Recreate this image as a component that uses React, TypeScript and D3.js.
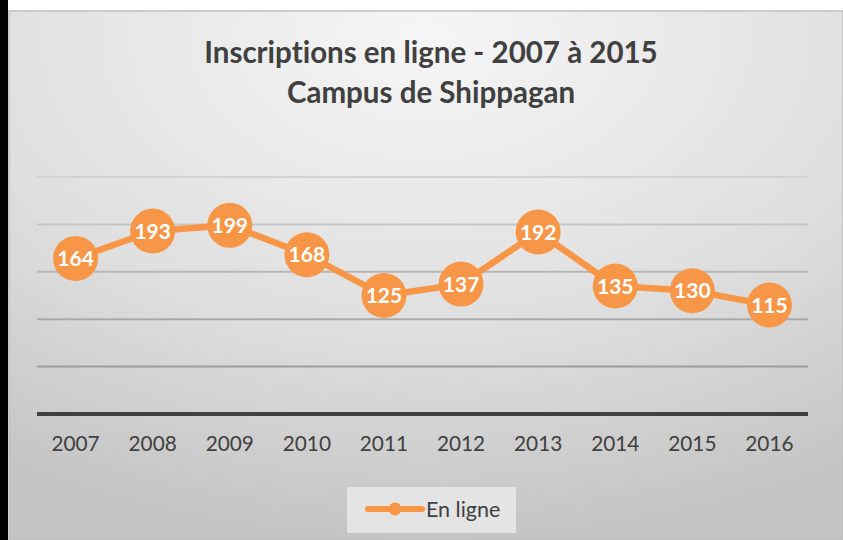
import React from "react";
import * as d3 from "d3";

const years = ["2007", "2008", "2009", "2010", "2011", "2012", "2013", "2014", "2015", "2016"];
const enLigne = [164, 193, 199, 168, 125, 137, 192, 135, 130, 115];
const gridTicks = [50, 100, 150, 200, 250];
const titleLines = ["Inscriptions en ligne - 2007 à 2015", "Campus de Shippagan"];
const seriesName = "En ligne";

const W = 843;
const H = 540;
const ORANGE = "#F79646";
const TEXT = "#404040";
const FONT = "Lato, 'Open Sans', sans-serif";

export default function App() {
  const x = d3.scaleBand<string>().domain(years).range([37, 808]);
  const y = d3.scaleLinear().domain([0, 250]).range([414, 177]);
  const cx = (d: string) => (x(d) as number) + x.bandwidth() / 2;
  const line = d3
    .line<number>()
    .x((_, i) => cx(years[i]))
    .y((v) => y(v));
  const gridColor = d3.scaleLinear<string>().domain([250, 50]).range(["#d2d2d2", "#9c9c9c"]);

  return (
    <svg
      width={W}
      height={H}
      style={{ position: "absolute", left: 0, top: 0, display: "block", fontVariantLigatures: "none" }}
    >
      <defs>
        <radialGradient id="bg" cx="0.5" cy="0.05" r="0.95" fx="0.5" fy="0.05">
          <stop offset="0" stopColor="#f6f6f6" />
          <stop offset="0.6" stopColor="#dedede" />
          <stop offset="1" stopColor="#c4c4c4" />
        </radialGradient>
      </defs>
      <rect x={0} y={0} width={W} height={H} fill="#ffffff" />
      <rect x={9} y={11} width={W - 9} height={H - 11} fill="url(#bg)" stroke="#bfbfbf" strokeWidth={1.5} />
      <rect x={0} y={0} width={8} height={H} fill="#000000" />

      {titleLines.map((t, i) => (
        <text
          key={i}
          x={431}
          y={63 + i * 40}
          textAnchor="middle"
          fontFamily={FONT}
          fontWeight={700}
          fontSize={29.5}
          fill={TEXT}
        >
          {t}
        </text>
      ))}

      {gridTicks.map((t) => (
        <line
          key={t}
          x1={37}
          x2={808}
          y1={y(t)}
          y2={y(t)}
          stroke={gridColor(t)}
          strokeWidth={2}
        />
      ))}
      <line x1={37} x2={808} y1={y(0)} y2={y(0)} stroke="#404040" strokeWidth={4} />

      {years.map((yr) => (
        <text
          key={yr}
          x={cx(yr)}
          y={451}
          textAnchor="middle"
          fontFamily={FONT}
          fontSize={20.8}
          fill={TEXT}
        >
          {yr}
        </text>
      ))}

      <path
        d={line(enLigne) as string}
        fill="none"
        stroke={ORANGE}
        strokeWidth={6.5}
        strokeLinejoin="round"
        strokeLinecap="round"
      />
      {enLigne.map((v, i) => (
        <g key={i}>
          <circle cx={cx(years[i])} cy={y(v)} r={22.5} fill={ORANGE} />
          <text
            x={cx(years[i])}
            y={y(v)}
            dy="0.36em"
            textAnchor="middle"
            fontFamily={FONT}
            fontWeight={700}
            fontSize={21}
            fill="#ffffff"
          >
            {v}
          </text>
        </g>
      ))}

      <rect x={347} y={487} width={169} height={46} fill="#e4e4e4" />
      <line x1={368} x2={422} y1={509} y2={509} stroke={ORANGE} strokeWidth={6} strokeLinecap="round" />
      <circle cx={395} cy={509} r={6.5} fill={ORANGE} />
      <text x={426} y={517} fontFamily={FONT} fontSize={21.5} fill={TEXT}>
        {seriesName}
      </text>
    </svg>
  );
}
